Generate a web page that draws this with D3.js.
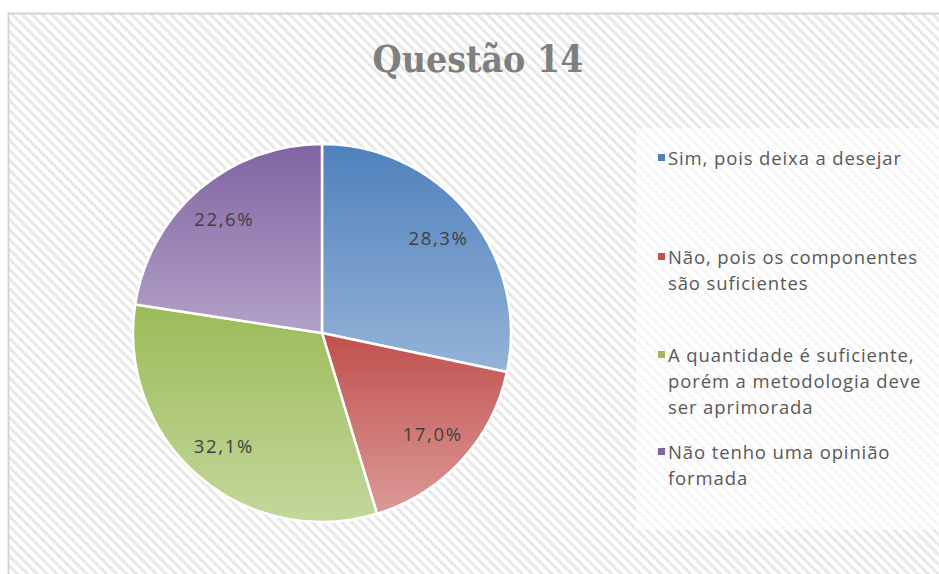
<!DOCTYPE html>
<html><head><meta charset="utf-8">
<script src="https://cdn.jsdelivr.net/npm/d3@7"></script>
<style>html,body{margin:0;padding:0;background:#fff;overflow:hidden}</style>
</head><body>
<svg id="c" width="939" height="574"></svg>
<script>
const title = "Questão 14";
const categories = ["Sim, pois deixa a desejar","Não, pois os componentes são suficientes","A quantidade é suficiente, porém a metodologia deve ser aprimorada","Não tenho uma opinião formada"];
const legendLines = [["Sim, pois deixa a desejar"],["Não, pois os componentes","são suficientes"],["A quantidade é suficiente,","porém a metodologia deve","ser aprimorada"],["Não tenho uma opinião","formada"]];
const values = [28.3, 17.0, 32.1, 22.6];
const labels = ["28,3%","17,0%","32,1%","22,6%"];
const topColors = ["#4f81bd","#c0504d","#9bbb59","#8064a2"];
const bottomColors = ["#95b3d7","#dc9a98","#c4d79b","#b3a2c7"];

const svg = d3.select("#c");
const defs = svg.append("defs");
const pat = defs.append("pattern").attr("id","stripes").attr("patternUnits","userSpaceOnUse")
  .attr("width",7).attr("height",7).attr("patternTransform","rotate(45)");
pat.append("rect").attr("width",7).attr("height",7).attr("fill","#ffffff");
pat.append("rect").attr("width",7).attr("height",3).attr("fill","#e8e8e8");

svg.append("rect").attr("x",8.5).attr("y",13.5).attr("width",940).attr("height",570)
  .attr("fill","url(#stripes)").attr("stroke","#d4d4d4").attr("stroke-width",2);

// legend box
svg.append("rect").attr("x",636).attr("y",128).attr("width",303).attr("height",402)
  .attr("fill","#ffffff").attr("opacity",0.6);

// title
const t = svg.append("text").attr("x",478).attr("y",72).attr("text-anchor","middle")
  .attr("font-family","'DejaVu Serif Condensed', 'DejaVu Serif', serif").attr("font-weight","bold")
  .attr("font-size",36).attr("fill","#7f7f7f").text(title);
const tw = t.node().getComputedTextLength();
t.attr("font-size", 36*211/tw);

// gradients
topColors.forEach((c,i)=>{
  const g = defs.append("linearGradient").attr("id","g"+i).attr("x1",0).attr("y1",0).attr("x2",0).attr("y2",1);
  g.append("stop").attr("offset","0%").attr("stop-color",c);
  g.append("stop").attr("offset","100%").attr("stop-color",bottomColors[i]);
});

const cx = 322, cy = 333, R = 189;
const pie = d3.pie().sort(null).value(d=>d);
const arcs = pie(values);
const arc = d3.arc().innerRadius(0).outerRadius(R);
const labelArc = d3.arc().innerRadius(150).outerRadius(150);
const gp = svg.append("g").attr("transform",`translate(${cx},${cy})`);
gp.selectAll("path").data(arcs).join("path")
  .attr("d",arc).attr("fill",(d,i)=>`url(#g${i})`)
  .attr("stroke","#ffffff").attr("stroke-width",2.5).attr("stroke-linejoin","round");
const lbl = gp.selectAll("text").data(arcs).join("text")
  .attr("transform",d=>`translate(${labelArc.centroid(d)})`)
  .attr("text-anchor","middle").attr("dy","0.35em")
  .attr("font-family","'Open Sans', sans-serif").attr("font-size",18.5)
  .attr("fill","#404040").text((d,i)=>labels[i]);
const lw = lbl.nodes()[0].getComputedTextLength();
lbl.attr("letter-spacing", Math.max(0,(60-lw)/5));

// legend
const legTop = [165, 264, 362, 459];
const lg = svg.append("g");
legendLines.forEach((lines,i)=>{
  lg.append("rect").attr("x",658).attr("y",legTop[i]-11).attr("width",7).attr("height",7).attr("fill",topColors[i]);
  lines.forEach((ln,j)=>{
    lg.append("text").attr("x",668).attr("y",legTop[i]+j*26)
      .attr("font-family","'Open Sans', sans-serif").attr("font-size",18.5)
      .attr("fill","#595959").attr("class","lt").text(ln);
  });
});
const ref = lg.selectAll("text.lt").filter(function(){return this.textContent==="Não, pois os componentes";}).node();
const rw = ref.getComputedTextLength();
const ls = (250 - rw) / ("Não, pois os componentes".length);
lg.selectAll("text.lt").attr("letter-spacing", Math.max(0, ls));
</script>
</body></html>
